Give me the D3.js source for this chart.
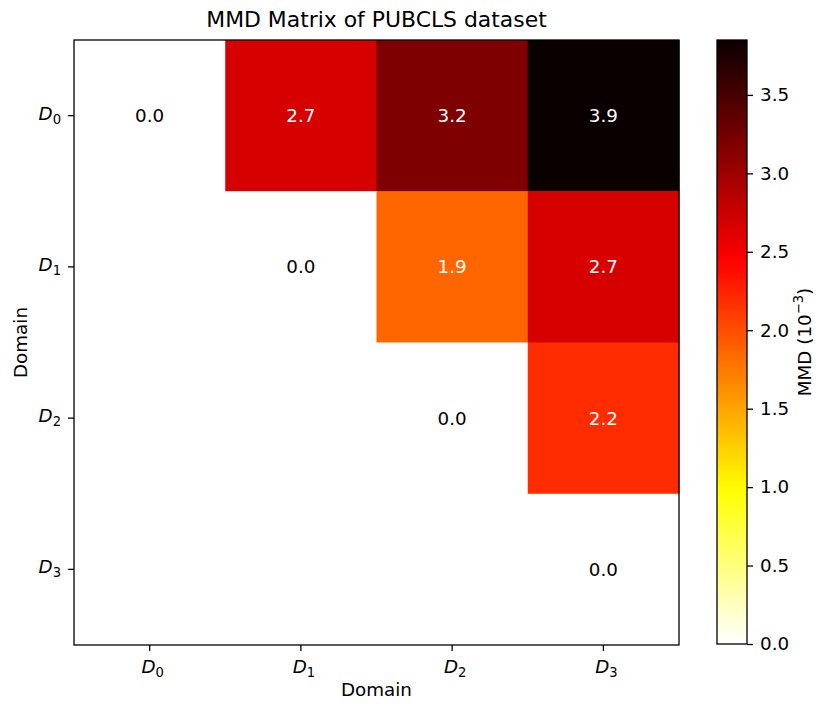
<!DOCTYPE html>
<html><head><meta charset="utf-8">
<script src="https://cdn.jsdelivr.net/npm/d3@7"></script>
<style>body{margin:0;background:#fff}text{font-family:"DejaVu Sans",sans-serif}</style>
</head><body>
<svg id="c" width="831" height="714"></svg>
<script>
const domains = ["0","1","2","3"];
// MMD values (10^-3), upper triangle; null = masked
const row0 = [0.0, 2.68, 3.18, 3.85];
const row1 = [null, 0.0, 1.86, 2.68];
const row2 = [null, null, 0.0, 2.19];
const row3 = [null, null, null, 0.0];
const matrix = [row0, row1, row2, row3];
const cbTicks = [0.0, 0.5, 1.0, 1.5, 2.0, 2.5, 3.0, 3.5];
const vmin = 0, vmax = 3.85;

// matplotlib 'hot' colormap, reversed
function hot(s){
  const r = s < 0.365079 ? 0.0416 + (1-0.0416)*s/0.365079 : 1;
  const g = s < 0.365079 ? 0 : (s < 0.746032 ? (s-0.365079)/(0.746032-0.365079) : 1);
  const b = s < 0.746032 ? 0 : (s-0.746032)/(1-0.746032);
  return d3.rgb(r*255, g*255, b*255);
}
const hotR = t => hot(1 - Math.max(0, Math.min(1, t)));

const FS = 18.3;
const svg = d3.select("#c");
const L = 74, R = 679, T = 40, B = 645;
const x = d3.scaleBand().domain(domains).range([L, R]).padding(0);
const y = d3.scaleBand().domain(domains).range([T, B]).padding(0);
const cnorm = d3.scaleLinear().domain([vmin, vmax]).range([0, 1]);

const cells = [];
matrix.forEach((row, i) => row.forEach((v, j) => { if (v !== null) cells.push({i, j, v}); }));

svg.append("g").selectAll("rect").data(cells).join("rect")
  .attr("x", d => x(domains[d.j])).attr("y", d => y(domains[d.i]))
  .attr("width", x.bandwidth()+0.5).attr("height", y.bandwidth()+0.5)
  .attr("fill", d => hotR(cnorm(d.v)));

svg.append("g").selectAll("text").data(cells).join("text")
  .attr("x", d => x(domains[d.j]) + x.bandwidth()/2)
  .attr("y", d => y(domains[d.i]) + y.bandwidth()/2)
  .attr("text-anchor", "middle").attr("dominant-baseline", "central")
  .attr("font-size", FS)
  .attr("fill", d => cnorm(d.v) > 0.4 ? "#fff" : "#000")
  .text(d => d.v.toFixed(1));

// frame
svg.append("rect").attr("x", L).attr("y", T).attr("width", R-L).attr("height", B-T)
  .attr("fill", "none").attr("stroke", "#000").attr("stroke-width", 1.3);

function mathLabel(sel, k){
  sel.append("tspan").attr("font-style", "italic").text("D");
  sel.append("tspan").attr("font-size", "0.72em").attr("dy", "0.3em").text(k);
}

// x axis
const xa = svg.append("g").attr("transform", `translate(0,${B})`)
  .call(d3.axisBottom(x).tickSize(6).tickFormat(""));
xa.select(".domain").remove();
xa.selectAll("line").attr("stroke", "#000").attr("stroke-width", 1.3);
domains.forEach(k => {
  const t = svg.append("text").attr("x", x(k)+x.bandwidth()/2+3).attr("y", B+28)
    .attr("text-anchor", "middle").attr("font-size", FS);
  mathLabel(t, k);
});
// y axis
const ya = svg.append("g").attr("transform", `translate(${L},0)`)
  .call(d3.axisLeft(y).tickSize(6).tickFormat(""));
ya.select(".domain").remove();
ya.selectAll("line").attr("stroke", "#000").attr("stroke-width", 1.3);
domains.forEach(k => {
  const t = svg.append("text").attr("x", L-13).attr("y", y(k)+y.bandwidth()/2+4)
    .attr("text-anchor", "end").attr("font-size", FS);
  mathLabel(t, k);
});

svg.append("text").attr("x", (L+R)/2).attr("y", 696).attr("text-anchor", "middle")
  .attr("font-size", FS).text("Domain");
svg.append("text").attr("transform", `translate(27,${(T+B)/2}) rotate(-90)`)
  .attr("text-anchor", "middle").attr("font-size", FS).text("Domain");
svg.append("text").attr("x", (L+R)/2).attr("y", 27).attr("text-anchor", "middle")
  .attr("font-size", 21.9).text("MMD Matrix of PUBCLS dataset");

// colorbar
const CL = 717, CR = 747, CT = 40, CB = 644;
const cy = d3.scaleLinear().domain([vmin, vmax]).range([CB, CT]);
const defs = svg.append("defs");
const grad = defs.append("linearGradient").attr("id", "g").attr("x1", 0).attr("y1", 1).attr("x2", 0).attr("y2", 0);
d3.range(0, 1.0001, 0.02).forEach(t => grad.append("stop").attr("offset", t).attr("stop-color", hotR(t)));
svg.append("rect").attr("x", CL).attr("y", CT).attr("width", CR-CL).attr("height", CB-CT)
  .attr("fill", "url(#g)").attr("stroke", "#000").attr("stroke-width", 1.3);
const ca = svg.append("g").attr("transform", `translate(${CR},0)`)
  .call(d3.axisRight(cy).tickValues(cbTicks).tickSize(6).tickPadding(7).tickFormat(d3.format(".1f")));
ca.select(".domain").remove();
ca.selectAll("line").attr("stroke", "#000").attr("stroke-width", 1.3);
ca.selectAll("text").attr("font-size", FS).attr("font-family", "DejaVu Sans").attr("fill", "#000");
const cl = svg.append("text").attr("transform", `translate(811,${(CT+CB)/2}) rotate(-90)`)
  .attr("text-anchor", "middle").attr("font-size", FS);
cl.append("tspan").text("MMD (10");
cl.append("tspan").attr("font-size", "0.72em").attr("dy", "-0.6em").text("−3");
cl.append("tspan").attr("dy", "0.43em").text(")");
</script>
</body></html>
